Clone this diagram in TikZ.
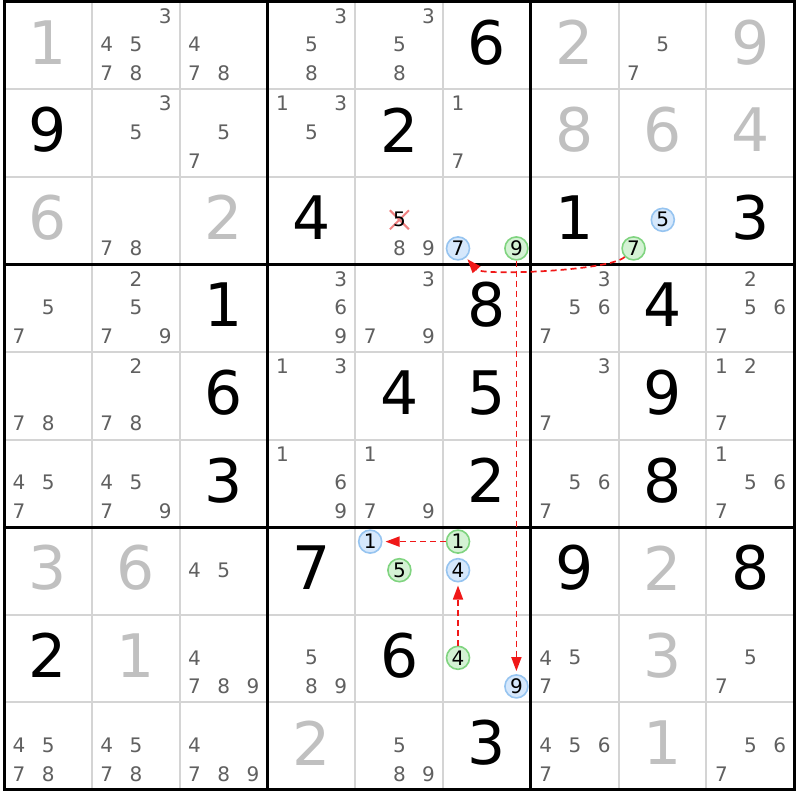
\documentclass[tikz,border=0pt]{standalone}
\usepackage{fontspec}
\setmainfont{DejaVu Sans}
\usetikzlibrary{arrows.meta,shapes.misc}
\definecolor{candc}{RGB}{96,96,96}
\definecolor{givc}{RGB}{192,192,192}
\definecolor{thinc}{RGB}{212,212,212}
\definecolor{bluef}{RGB}{214,232,252}
\definecolor{bluel}{RGB}{150,196,240}
\definecolor{greenf}{RGB}{212,242,212}
\definecolor{greenl}{RGB}{128,212,128}
\definecolor{arrc}{RGB}{240,24,24}
\definecolor{xred}{RGB}{240,130,130}
\tikzset{
  candat/.style n args={3}{at={({4+87.8*(#1-1)+15+29.2*mod(#3-1,3)},{1.5+87.6*(#2-1)+14.5+28.6*floor((#3-1)/3)})}},
  cellat/.style n args={2}{at={({4+87.8*(#1-1)+43.9},{1.5+87.6*(#2-1)+43.8-3})}},
  bigdig/.style={font=\fontsize{60}{60}\selectfont, inner sep=0pt, anchor=center},
  solved/.style={bigdig, text=black},
  given/.style={bigdig, text=givc},
  cand/.style={font=\fontsize{20}{20}\selectfont, text=candc, inner sep=0pt, anchor=center},
  bluec/.style={circle, draw=bluel, fill=bluef, line width=1.6pt, minimum size=23pt, inner sep=0pt, font=\fontsize{20}{20}\selectfont, text=black},
  greenc/.style={bluec, draw=greenl, fill=greenf},
  gridthin/.style={draw=thinc, line width=2pt},
  gridbold/.style={draw=black, line width=3pt},
  link/.style={draw=arrc, line width=1.7pt, dash pattern=on 6pt off 4pt, -{Triangle[length=14pt,width=10pt]}}
}
\begin{document}
\begin{tikzpicture}[x=1pt,y=-1pt]
\useasboundingbox (0,0) rectangle (800,800);
\fill[white] (0,0) rectangle (800,800);
% grid
\foreach \i in {1,2,4,5,7,8} {
  \draw[gridthin] ({4+87.8*\i},1.5) -- ({4+87.8*\i},789.9);
  \draw[gridthin] (4,{1.5+87.6*\i}) -- (794.2,{1.5+87.6*\i});
}
\foreach \i in {3,6} {
  \draw[gridbold] ({4+87.8*\i},1.5) -- ({4+87.8*\i},789.9);
  \draw[gridbold] (4,{1.5+87.6*\i}) -- (794.2,{1.5+87.6*\i});
}
\draw[gridbold] (4,1.5) rectangle (794.2,789.9);
% given (gray) digits
\foreach \c/\r/\d in {1/1/1, 7/1/2, 9/1/9, 7/2/8, 8/2/6, 9/2/4, 1/3/6, 3/3/2, 1/7/3, 2/7/6, 8/7/2, 2/8/1, 8/8/3, 4/9/2, 8/9/1}
  \node[given, cellat={\c}{\r}] (v\c\r) {\d};
% solved (black) digits
\foreach \c/\r/\d in {6/1/6, 1/2/9, 5/2/2, 4/3/4, 7/3/1, 9/3/3, 3/4/1, 6/4/8, 8/4/4, 3/5/6, 5/5/4, 6/5/5, 8/5/9, 3/6/3, 6/6/2, 8/6/8, 4/7/7, 7/7/9, 9/7/8, 1/8/2, 5/8/6, 6/9/3}
  \node[solved, cellat={\c}{\r}] (v\c\r) {\d};
% candidates
\foreach \c/\r/\ds in {2/1/{3,4,5,7,8}, 3/1/{4,7,8}, 4/1/{3,5,8}, 5/1/{3,5,8}, 8/1/{5,7},
  2/2/{3,5}, 3/2/{5,7}, 4/2/{1,3,5}, 6/2/{1,7},
  2/3/{7,8}, 5/3/{8,9},
  1/4/{5,7}, 2/4/{2,5,7,9}, 4/4/{3,6,9}, 5/4/{3,7,9}, 7/4/{3,5,6,7}, 9/4/{2,5,6,7},
  1/5/{7,8}, 2/5/{2,7,8}, 4/5/{1,3}, 7/5/{3,7}, 9/5/{1,2,7},
  1/6/{4,5,7}, 2/6/{4,5,7,9}, 4/6/{1,6,9}, 5/6/{1,7,9}, 7/6/{5,6,7}, 9/6/{1,5,6,7},
  3/7/{4,5},
  3/8/{4,7,8,9}, 4/8/{5,8,9}, 7/8/{4,5,7}, 9/8/{5,7},
  1/9/{4,5,7,8}, 2/9/{4,5,7,8}, 3/9/{4,7,8,9}, 5/9/{5,8,9}, 7/9/{4,5,6,7}, 9/9/{5,6,7}} {
  \foreach \d in \ds {
    \node[cand, candat={\c}{\r}{\d}] (k\c\r\d) {\d};
  }
}
% eliminated candidate
\node[cross out, draw=xred, line width=2pt, minimum size=17pt, inner sep=0pt, candat={5}{3}{5}] (x535) {};
\node[cand, text=black, candat={5}{3}{5}] (k535) {5};
% highlighted candidates
\node[bluec, candat={6}{3}{7}] (b637) {7};
\node[greenc, candat={6}{3}{9}] (g639) {9};
\node[bluec, candat={8}{3}{5}] (b835) {5};
\node[greenc, candat={8}{3}{7}] (g837) {7};
\node[bluec, candat={5}{7}{1}] (b571) {1};
\node[greenc, candat={5}{7}{5}] (g575) {5};
\node[greenc, candat={6}{7}{1}] (g671) {1};
\node[bluec, candat={6}{7}{4}] (b674) {4};
\node[greenc, candat={6}{8}{4}] (g684) {4};
\node[bluec, candat={6}{8}{9}] (b689) {9};
% links
\draw[link, shorten >=2pt] (g837) .. controls (610,271) and (482,276) .. (b637);
\draw[link, shorten >=3pt] (g639) -- (b689);
\draw[link, shorten >=3pt] (g671) -- (b571);
\draw[link, shorten >=3pt] (g684) -- (b674);
\end{tikzpicture}
\end{document}
